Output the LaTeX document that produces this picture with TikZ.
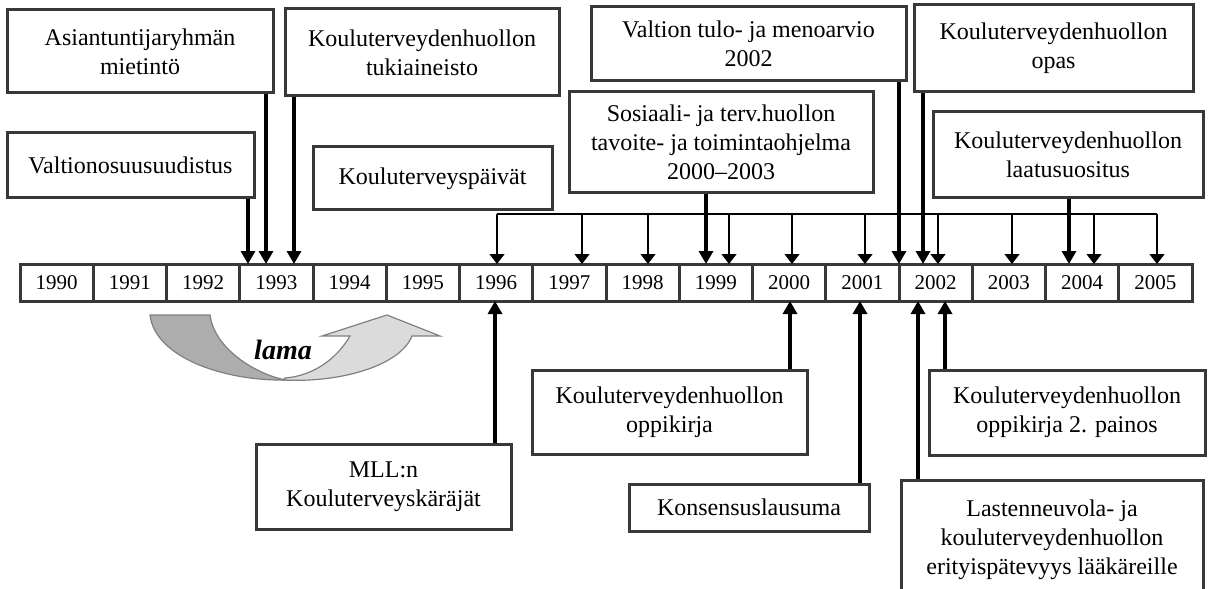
\documentclass[tikz,border=0pt]{standalone}
\usepackage{fontspec}
\setmainfont{Liberation Serif}
\usetikzlibrary{arrows.meta}
\begin{document}
\begin{tikzpicture}[x=0.5pt,y=-0.5pt,
  box/.style={draw=black!78,line width=1.5pt,inner sep=0pt,align=center,font=\fontsize{12}{14.5}\selectfont},
  yearcell/.style={draw=black!78,line width=1.5pt,inner sep=0pt,minimum width=36.625pt,minimum height=18.5pt,font=\fontsize{10.5}{12}\selectfont},
  thk/.style={line width=1.6pt,-{Triangle[width=7pt,length=6.5pt]}},
  thn/.style={line width=0.6pt,-{Triangle[width=7.5pt,length=5pt]}},
  lamadark/.style={fill=black!32,draw=black!50,line width=0.6pt},
  lamalight/.style={fill=black!14,draw=black!50,line width=0.6pt},
]
\useasboundingbox (0,0) rectangle (1208,588);

% timeline
\foreach \i in {0,...,15}{
  \pgfmathtruncatemacro\yr{1990+\i}
  \node[yearcell] (c\yr) at ({56.625+73.25*\i},282.5) {\yr};
}

% top boxes
\node[box,minimum width=133pt,minimum height=41.5pt] (asi) at (140,51.5) {Asiantuntijaryhmän\\mietintö};
\node[box,minimum width=137pt,minimum height=43.5pt] (tuk) at (422,52.5) {Kouluterveydenhuollon\\tukiaineisto};
\node[box,minimum width=123.5pt,minimum height=32.5pt] (val) at (130.5,165.5) {Valtionosuusuudistus};
\node[box,minimum width=119.5pt,minimum height=31.5pt] (kpv) at (432.5,178.5) {Kouluterveyspäivät};
\node[box,minimum width=157.5pt,minimum height=37pt] (vtm) at (748.5,44) {Valtion tulo- ja menoarvio\\2002};
\node[box,minimum width=152pt,minimum height=50.5pt] (sos) at (721,142.5) {Sosiaali- ja terv.huollon\\tavoite- ja toimintaohjelma\\2000–2003};
\node[box,minimum width=139.5pt,minimum height=43.5pt] (opa) at (1053.5,48.5) {Kouluterveydenhuollon\\opas};
\node[box,minimum width=135pt,minimum height=43pt] (laa) at (1068,155) {Kouluterveydenhuollon\\laatusuositus};

% bottom boxes
\node[box,minimum width=127.5pt,minimum height=42.5pt] (mll) at (383.5,486.5) {MLL:n\\Kouluterveyskäräjät};
\node[box,minimum width=137.5pt,minimum height=42pt] (opk) at (669.5,412) {Kouluterveydenhuollon\\oppikirja};
\node[box,minimum width=120pt,minimum height=23.5pt] (kon) at (749,507.5) {Konsensuslausuma};
\node[box,minimum width=138pt,minimum height=42.5pt] (op2) at (1067,412.5) {Kouluterveydenhuollon\\oppikirja 2. painos};
\node[box,minimum width=151pt,minimum height=60pt] (las) at (1052,540) {Lastenneuvola- ja\\kouluterveydenhuollon\\erityispätevyys lääkäreille};

% thick downward arrows
\coordinate (d1) at (248,264);
\coordinate (d2) at (266,264);
\coordinate (d3) at (294,264);
\coordinate (d4) at (706,264);
\coordinate (d5) at (899,264);
\coordinate (d6) at (923,264);
\coordinate (d7) at (1069,264);
\draw[thk] (val.south -| d1) -- (d1);
\draw[thk] (asi.south -| d2) -- (d2);
\draw[thk] (tuk.south -| d3) -- (d3);
\draw[thk] (sos.south -| d4) -- (d4);
\draw[thk] (vtm.south -| d5) -- (d5);
\draw[thk] (opa.south -| d6) -- (d6);
\draw[thk] (laa.south -| d7) -- (d7);

% thin distribution line from Kouluterveyspaivat
\coordinate (hl) at (497,214);
\coordinate (hr) at (1157,214);
\draw[line width=0.6pt] (hl) -- (hr);
\foreach \x [count=\k] in {497,582,648,729,792,865,938,1012,1094,1157}{
  \coordinate (t\k) at (\x,264);
  \draw[thn] (hl -| t\k) -- (t\k);
}

% upward arrows
\coordinate (u1) at (495,301);
\coordinate (u2) at (790,301);
\coordinate (u3) at (860,301);
\coordinate (u4) at (918,301);
\coordinate (u5) at (945,301);
\draw[thk] (mll.north -| u1) -- (u1);
\draw[thk] (opk.north -| u2) -- (u2);
\draw[thk] (kon.north -| u3) -- (u3);
\draw[thk] (las.north -| u4) -- (u4);
\draw[thk] (op2.north -| u5) -- (u5);

% lama U-turn arrow
\draw[lamalight] (283,380) .. controls (340,383) and (400,366) .. (412,336) -- (440,336) -- (387,315) -- (322,336) -- (350,336) .. controls (336,360) and (312,376) .. (285,378) -- cycle;
\draw[lamadark] (150,315) .. controls (155,358) and (225,381) .. (285,380) .. controls (250,372) and (214,346) .. (210,315) -- cycle;
\node[font=\fontsize{14}{16}\selectfont\bfseries\itshape] (lama) at (283,350) {lama};
\end{tikzpicture}
\end{document}
